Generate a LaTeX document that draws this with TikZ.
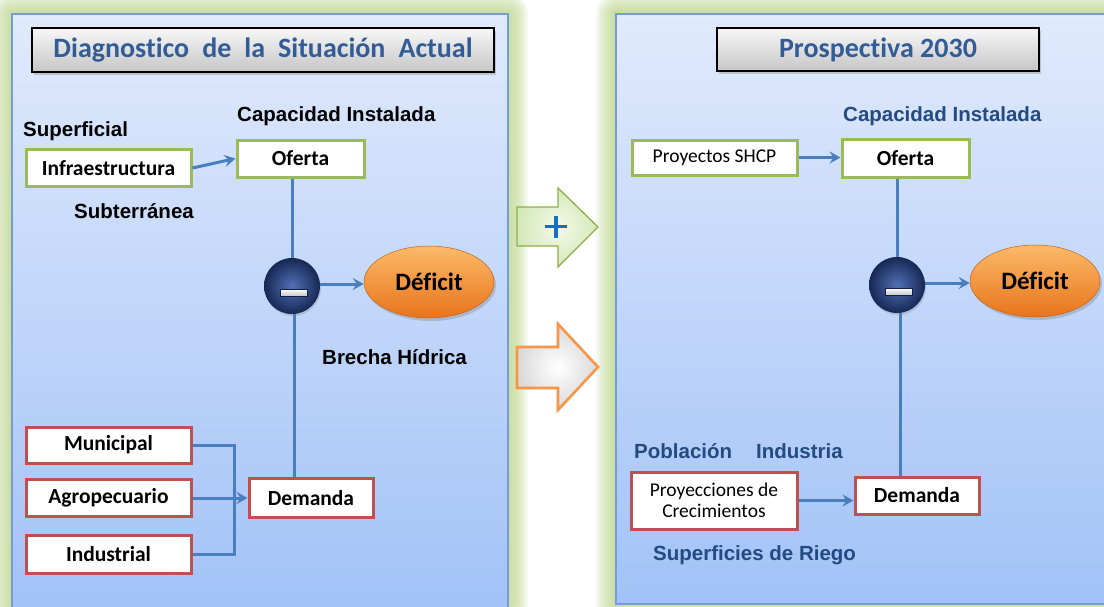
\documentclass[tikz,border=0pt]{standalone}
\usepackage{fontspec}
\setmainfont{Carlito}[Ligatures=NoCommon]
\newfontfamily\arialfam{Liberation Sans}
\usetikzlibrary{shadows,shapes.geometric,arrows.meta}

\definecolor{panelTop}{RGB}{224,234,252}
\definecolor{panelBot}{RGB}{162,194,247}
\definecolor{panelEdge}{RGB}{118,156,212}
\definecolor{glow}{RGB}{188,216,140}
\definecolor{linkblue}{RGB}{74,126,190}
\definecolor{boxgreen}{RGB}{155,187,89}
\definecolor{boxred}{RGB}{192,80,77}
\definecolor{titleblue}{RGB}{50,92,150}
\definecolor{labelblue}{RGB}{36,74,130}
\definecolor{orangeTop}{RGB}{252,186,104}
\definecolor{orangeBot}{RGB}{232,116,28}
\definecolor{navyIn}{RGB}{82,112,182}
\definecolor{navyOut}{RGB}{22,40,84}
\definecolor{plusblue}{RGB}{24,110,192}
\definecolor{arrowgreen}{RGB}{140,176,72}
\definecolor{arrowfill}{RGB}{226,242,204}
\definecolor{arroworange}{RGB}{247,150,70}

\newcommand\tgap{\hspace{13pt}}

\tikzset{
  titlebox/.style={draw=black, line width=1.3pt, top color=gray!6, bottom color=gray!45,
    drop shadow={opacity=0.35, shadow xshift=2pt, shadow yshift=-3pt},
    font=\fontsize{28}{32}\selectfont\bfseries, text=titleblue, inner sep=0pt},
  boxbase/.style={fill=white, line width=3pt, inner sep=0pt, align=center},
  gbox/.style={boxbase, draw=boxgreen},
  rbox/.style={boxbase, draw=boxred},
  boxtext/.style={font=\fontsize{21.5}{24}\selectfont\bfseries},
  smalltext/.style={font=\fontsize{19.5}{22}\selectfont},
  label/.style={font=\arialfam\fontsize{20.5}{24}\selectfont\bfseries, inner sep=0pt, anchor=west},
  bluelabel/.style={label, text=labelblue},
  link/.style={draw=linkblue, line width=3pt},
  linkarrow/.style={link, -{Stealth[length=11pt,width=12pt,inset=4pt]}},
  minusball/.style={circle, minimum size=56pt, inner sep=0pt, inner color=navyIn, outer color=navyOut,
    drop shadow={opacity=0.3, shadow xshift=1pt, shadow yshift=-2pt}},
  minusbar/.style={draw=navyOut!80!black, line width=0.8pt, top color=white, bottom color=gray!45},
  deficit/.style={ellipse, minimum width=130pt, minimum height=72pt, inner sep=0pt,
    top color=orangeTop, bottom color=orangeBot, draw=orangeBot!85!black, line width=0.5pt,
    drop shadow={opacity=0.35, shadow xshift=2pt, shadow yshift=-3pt},
    font=\fontsize{25}{28}\selectfont\bfseries},
}

\begin{document}
\begin{tikzpicture}[x=1pt, y=-1pt]
  \useasboundingbox (0,0) rectangle (1104,606);
  \clip (0,0) rectangle (1104,606);
  \fill[white] (0,0) rectangle (1104,606);

  % soft green halo around both panels
  \foreach \k in {1,...,10} {
    \fill[glow, opacity=0.13, rounded corners=2*\k pt] (12-2*\k, 14-2*\k) rectangle (508+2*\k, 640);
    \fill[glow, opacity=0.13, rounded corners=2*\k pt] (616-2*\k, 14-2*\k) rectangle (1140, 640);
  }

  % panels
  \draw[panelEdge, line width=1.3pt, top color=panelTop, bottom color=panelBot] (12,14) rectangle (508,612);
  \draw[panelEdge, line width=1.3pt, top color=panelTop, bottom color=panelBot] (616,14) rectangle (1130,604);

  % ---------------- left panel ----------------
  \node[titlebox, minimum width=462pt, minimum height=44pt] (tL) at (263,50)
    {Diagnostico\tgap de\tgap la\tgap Situación\tgap Actual};

  \node[label] (sup) at (23,131) {Superficial};
  \node[label] (capL) at (237,116) {Capacidad Instalada};
  \node[label] (sub) at (74,211) {Subterránea};
  \node[label] (brecha) at (322,357) {Brecha Hídrica};

  \node[gbox, boxtext, minimum width=165pt, minimum height=37pt] (inf) at (108.5,168) {Infraestructura};
  \node[gbox, boxtext, minimum width=127pt, minimum height=37pt] (ofL) at (300.5,158.5) {Oferta};

  \node[minusball] (mL) at (292,286) {};
  \draw[minusbar] ([shift={(-12,3)}]mL.center) rectangle ([shift={(15,10)}]mL.center);
  \node[deficit] (defL) at (429,282) {Déficit};

  \node[rbox, boxtext, minimum width=165pt, minimum height=36pt] (mun) at (108.5,445) {Municipal};
  \node[rbox, boxtext, minimum width=165pt, minimum height=37pt] (agr) at (108.5,498) {Agropecuario};
  \node[rbox, boxtext, minimum width=165pt, minimum height=38pt] (ind) at (108.5,554) {Industrial};
  \node[rbox, boxtext, minimum width=124pt, minimum height=39pt] (demL) at (311,498) {Demanda};
  \coordinate (bus) at (234,498);

  \draw[linkarrow] (inf.east) -- (ofL.west);
  \draw[link] (mL.north |- ofL.south) -- (mL.north);
  \draw[link] ([xshift=2pt]mL.south) -- ([xshift=2pt]mL.south |- demL.north);
  \draw[linkarrow] ([yshift=2pt]mL.east) -- ([yshift=2pt]mL.east -| defL.west);
  \draw[link] (mun.east) -- (mun.east -| bus) -- (ind.east -| bus) -- (ind.east);
  \draw[linkarrow] (agr.east) -- (demL.west);

  % ---------------- transition arrows ----------------
  \draw[arrowgreen, line width=1.3pt, inner color=white!60!arrowfill, outer color=arrowfill!85!arrowgreen, line join=miter]
    (517,207) -- (558,207) -- (558,188) -- (598,227) -- (558,267) -- (558,246) -- (517,246) -- cycle;
  \draw[plusblue, line width=3.5pt] (545,226.5) -- (567,226.5) (556,215.5) -- (556,237.5);
  \draw[arroworange, line width=2.6pt, inner color=white, outer color=gray!30, line join=miter]
    (517,347) -- (558,347) -- (558,324) -- (598,367) -- (558,410) -- (558,388) -- (517,388) -- cycle;

  % ---------------- right panel ----------------
  \node[titlebox, minimum width=322pt, minimum height=43pt] (tR) at (878,49.5) {Prospectiva 2030};

  \node[bluelabel] (capR) at (843,116) {Capacidad Instalada};
  \node[bluelabel] (pob) at (634,451) {Población};
  \node[bluelabel] (indu) at (756,451) {Industria};
  \node[bluelabel] (riego) at (653,555) {Superficies de Riego};

  \node[gbox, smalltext, minimum width=165pt, minimum height=35pt] (shcp) at (714.5,157.5) {Proyectos SHCP};
  \node[gbox, boxtext, minimum width=127pt, minimum height=38pt] (ofR) at (905.5,158) {Oferta};

  \node[minusball] (mR) at (897,285) {};
  \draw[minusbar] ([shift={(-12,3)}]mR.center) rectangle ([shift={(15,10)}]mR.center);
  \node[deficit] (defR) at (1035,281) {Déficit};

  \node[rbox, smalltext, minimum width=166pt, minimum height=57pt] (proy) at (714,500.5)
    {Proyecciones de\\[-0.5pt]Crecimientos};
  \node[rbox, boxtext, minimum width=124pt, minimum height=37pt] (demR) at (917,495.5) {Demanda};

  \draw[linkarrow] (shcp.east) -- (shcp.east -| ofR.west);
  \draw[link] (mR.north |- ofR.south) -- (mR.north);
  \draw[link] ([xshift=3pt]mR.south) -- ([xshift=3pt]mR.south |- demR.north);
  \draw[linkarrow] ([yshift=2pt]mR.east) -- ([yshift=2pt]mR.east -| defR.west);
  \draw[linkarrow] (proy.east) -- (proy.east -| demR.west);
\end{tikzpicture}
\end{document}
